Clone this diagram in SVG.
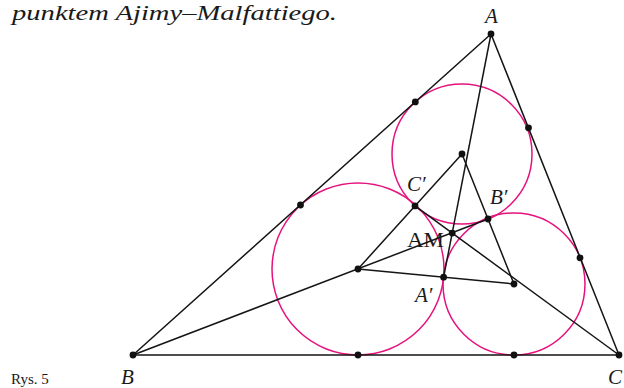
<svg xmlns="http://www.w3.org/2000/svg" width="624" height="388" viewBox="0 0 624 388">
<style>
.bg{fill:#ffffff}
.ln{stroke:#151515;stroke-width:1.5;fill:none;stroke-linejoin:round}
.cir{stroke:#e5127d;stroke-width:1.5;fill:none}
.dot{fill:#111111}
.t{font-family:'Liberation Serif','Times New Roman',serif;fill:#1a1a1a}
.it{font-style:italic}
</style>
<rect class="bg" x="0" y="0" width="624" height="388"/>
<text class="t it" x="12" y="20" font-size="21" textLength="325" lengthAdjust="spacingAndGlyphs">punktem Ajimy–Malfattiego.</text>
<g id="circles">
  <circle id="circle-A" class="cir" cx="462" cy="154" r="70"/>
  <circle id="circle-B" class="cir" cx="358" cy="269" r="86"/>
  <circle id="circle-C" class="cir" cx="514" cy="284" r="71"/>
</g>
<g id="connectors">
  <polygon class="ln" points="491,34 133,355 619,355"/>
  <polygon class="ln" points="462,154 358,269 514,284"/>
  <line class="ln" x1="491" y1="34" x2="443.6" y2="277.2"/>
  <line class="ln" x1="133" y1="355" x2="488" y2="219"/>
  <line class="ln" x1="619" y1="355" x2="415" y2="205.9"/>
</g>
<g id="node-A"><circle class="dot" cx="491" cy="34" r="3.4"/><text class="t it" x="485" y="23" font-size="21">A</text></g>
<g id="node-B"><circle class="dot" cx="133" cy="355" r="3.4"/><text class="t it" x="121" y="384" font-size="21">B</text></g>
<g id="node-C"><circle class="dot" cx="619" cy="355" r="3.4"/><text class="t it" x="608" y="384" font-size="21">C</text></g>
<g id="node-OA"><circle class="dot" cx="462" cy="154" r="3.4"/></g>
<g id="node-OB"><circle class="dot" cx="358" cy="269" r="3.4"/></g>
<g id="node-OC"><circle class="dot" cx="514" cy="284" r="3.4"/></g>
<g id="node-Cp"><circle class="dot" cx="415" cy="205.9" r="3.4"/><text class="t it" x="407" y="191" font-size="21">C′</text></g>
<g id="node-Bp"><circle class="dot" cx="488" cy="219" r="3.4"/><text class="t it" x="490" y="204" font-size="21">B′</text></g>
<g id="node-Ap"><circle class="dot" cx="443.6" cy="277.2" r="3.4"/><text class="t it" x="415" y="302" font-size="21">A′</text></g>
<g id="node-AM"><circle class="dot" cx="452.2" cy="233.1" r="3.4"/><text class="t" x="407" y="247" font-size="20" textLength="37" lengthAdjust="spacingAndGlyphs">AM</text></g>
<g id="tangent-points">
  <circle class="dot" cx="415.3" cy="101.9" r="3.4"/>
  <circle class="dot" cx="300.5" cy="205" r="3.4"/>
  <circle class="dot" cx="528.5" cy="127.8" r="3.4"/>
  <circle class="dot" cx="580" cy="257.8" r="3.4"/>
  <circle class="dot" cx="358" cy="355" r="3.4"/>
  <circle class="dot" cx="514" cy="355" r="3.4"/>
</g>
<text class="t" x="11" y="384" font-size="15">Rys. 5</text>
</svg>
